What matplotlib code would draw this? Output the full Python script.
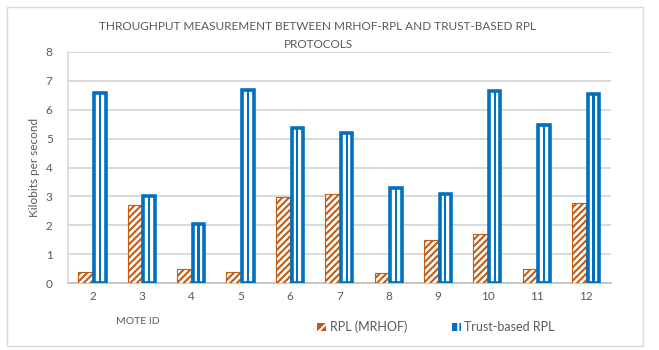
import matplotlib
matplotlib.use("Agg")
import matplotlib.pyplot as plt
from matplotlib.patches import Rectangle, Patch
import numpy as np

plt.rcParams['font.family'] = ['Lato', 'DejaVu Sans']
plt.rcParams['hatch.linewidth'] = 1.5

mote_ids = ['2', '3', '4', '5', '6', '7', '8', '9', '10', '11', '12']
rpl_mrhof = [0.39, 2.70, 0.47, 0.39, 2.99, 3.07, 0.34, 1.50, 1.69, 0.47, 2.76]
trust_rpl = [6.58, 3.02, 2.03, 6.68, 5.38, 5.18, 3.30, 3.07, 6.66, 5.46, 6.56]
y_ticks = [0, 1, 2, 3, 4, 5, 6, 7, 8]

orange = '#C55A11'
blue = '#0070C0'
txt = '#595959'

W, H = 659, 350
fig = plt.figure(figsize=(W / 100, H / 100), dpi=100)
fig.patch.set_facecolor('white')
fig.add_artist(Rectangle((7 / W, 1 - 346 / H), (643 - 7) / W, (346 - 7) / H,
                         transform=fig.transFigure, fill=False,
                         edgecolor='#D9D9D9', linewidth=1.0))

ax = fig.add_axes([68 / W, 1 - 283 / H, (611 - 68) / W, (283 - 52) / H])
x = np.arange(len(mote_ids))
bw = 0.29

ax.bar(x - bw / 2, rpl_mrhof, bw, facecolor='white', edgecolor=orange,
       hatch='/////', linewidth=0.8, zorder=3)
ax.bar(x + bw / 2, trust_rpl, bw * 0.80, facecolor='white', edgecolor=blue,
       linewidth=2.6, zorder=3)
ax.bar(x + bw / 2, trust_rpl, 0.045, facecolor=blue, edgecolor='none', zorder=4)

ax.set_xlim(-0.5, len(mote_ids) - 0.5)
ax.set_ylim(0, 8)
ax.set_yticks(y_ticks)
ax.set_xticks(x)
ax.set_xticklabels(mote_ids)
ax.yaxis.grid(True, color='#D9D9D9', linewidth=1.4, zorder=0)
ax.set_axisbelow(True)
for s in ['top', 'right']:
    ax.spines[s].set_visible(False)
ax.spines['left'].set_color('#D9D9D9')
ax.spines['bottom'].set_color('#BFBFBF')
ax.spines['left'].set_linewidth(1.2)
ax.spines['bottom'].set_linewidth(1.2)
ax.tick_params(axis='both', length=0, colors=txt, labelsize=8.5)
ax.tick_params(axis='y', pad=11)
ax.tick_params(axis='x', pad=6)

ax.set_ylabel('Kilobits per second', color=txt, fontsize=8.5, labelpad=4)

fig.text(317 / W, 1 - 27 / H, 'THROUGHPUT MEASUREMENT BETWEEN MRHOF-RPL AND TRUST-BASED RPL',
         ha='center', va='center', color=txt, fontsize=8.5)
fig.text(318 / W, 1 - 44 / H, 'PROTOCOLS', ha='center', va='center',
         color=txt, fontsize=8.5)
fig.text(138 / W, 1 - 322 / H, 'MOTE ID', ha='center', va='center',
         color=txt, fontsize=7.5)

handles = [Patch(facecolor=orange, edgecolor='white', hatch='//', linewidth=0),
           Patch(facecolor=blue, edgecolor='white', hatch='|', linewidth=0)]
fig.legend(handles, ['RPL (MRHOF)', 'Trust-based RPL'], loc='center',
           bbox_to_anchor=(436 / W, 1 - 327 / H), ncol=2, frameon=False,
           fontsize=9, labelcolor=txt, handlelength=0.7, handleheight=0.7,
           handletextpad=0.3, columnspacing=3.6)

fig.savefig('out.png', dpi=100, facecolor='white')
